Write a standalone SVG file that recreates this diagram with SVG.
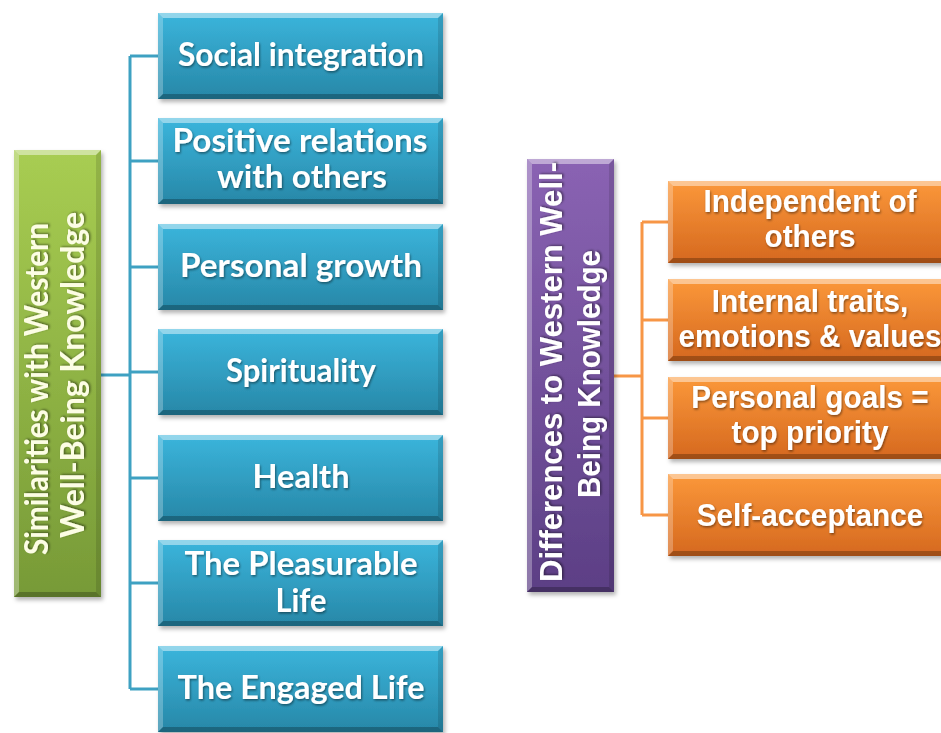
<svg xmlns="http://www.w3.org/2000/svg" xmlns:xlink="http://www.w3.org/1999/xlink" width="941" height="733" viewBox="0 0 941 733">
<style>
.tb{font-family:Lato,"Open Sans","DejaVu Sans",sans-serif;font-weight:bold;font-size:32.5px;fill:#ffffff;text-anchor:middle}
.to{font-family:"Liberation Sans",Arial,sans-serif;font-weight:bold;font-size:32px;fill:#ffffff;text-anchor:middle}
.tg{fill:#fcfde4}
.conB{stroke:#3ea1c2;stroke-width:3;fill:none}
.conO{stroke:#f79646;stroke-width:3;fill:none}
.blue{fill:url(#gBlue)}
.orange{fill:url(#gOrange)}
.hl{fill:#ffffff}
.sh{fill:#000000}
</style>
<defs>
<linearGradient id="gBlue" x1="0" y1="0" x2="0" y2="1"><stop offset="0" stop-color="#3bb5dc"/><stop offset="1" stop-color="#2787a7"/></linearGradient>
<linearGradient id="gOrange" x1="0" y1="0" x2="0" y2="1"><stop offset="0" stop-color="#fb983a"/><stop offset="1" stop-color="#d5681f"/></linearGradient>
<linearGradient id="gGreen" x1="0" y1="0" x2="0" y2="1"><stop offset="0" stop-color="#a8cd52"/><stop offset="1" stop-color="#779a37"/></linearGradient>
<linearGradient id="gPurple" x1="0" y1="0" x2="0" y2="1"><stop offset="0" stop-color="#8a63b3"/><stop offset="1" stop-color="#5c3f85"/></linearGradient>
<filter id="drop" x="-10%" y="-10%" width="120%" height="125%"><feDropShadow dx="2" dy="3" stdDeviation="2" flood-color="#000" flood-opacity="0.3"/></filter>
<filter id="tsh" x="-5%" y="-20%" width="110%" height="140%"><feDropShadow dx="1" dy="1.5" stdDeviation="1" flood-color="#000" flood-opacity="0.45"/></filter>
<g id="bevB">
<polygon class="hl" opacity="0.45" points="0,0 285,0 280,5 5,5"/>
<polygon class="hl" opacity="0.25" points="0,0 5,5 5,81 0,86"/>
<polygon class="sh" opacity="0.12" points="285,0 285,86 280,81 280,5"/>
<polygon class="sh" opacity="0.25" points="0,86 5,81 280,81 285,86"/>
</g>
<g id="bevO">
<polygon class="hl" opacity="0.45" points="0,0 285,0 280,5 5,5"/>
<polygon class="hl" opacity="0.25" points="0,0 5,5 5,77 0,82"/>
<polygon class="sh" opacity="0.12" points="285,0 285,82 280,77 280,5"/>
<polygon class="sh" opacity="0.25" points="0,82 5,77 280,77 285,82"/>
</g>
</defs>
<rect width="941" height="733" fill="#ffffff"/>

<g id="connectors">
<path class="conB" d="M101,375 H130 M130,56 V689 M130,56 H158 M130,161 H158 M130,267 H158 M130,372 H158 M130,478 H158 M130,583 H158 M130,689 H158"/>
<path class="conO" d="M614,376 H642 M642,222 V515 M642,222 H668 M642,320 H668 M642,418 H668 M642,515 H668"/>
</g>

<g id="n-similarities">
<rect x="14" y="150" width="87" height="447" fill="url(#gGreen)" filter="url(#drop)"/>
<polygon class="hl" opacity="0.45" points="14,150 101,150 96,155 19,155"/>
<polygon class="hl" opacity="0.3" points="14,150 19,155 19,592 14,597"/>
<polygon class="sh" opacity="0.12" points="101,150 101,597 96,592 96,155"/>
<polygon class="sh" opacity="0.25" points="14,597 19,592 96,592 101,597"/>
<text class="tb tg" filter="url(#tsh)" transform="translate(48,389) rotate(-90)" x="0" y="0" textLength="332" lengthAdjust="spacingAndGlyphs">Similarities with Western</text>
<text class="tb tg" filter="url(#tsh)" transform="translate(84,375) rotate(-90)" x="0" y="0" textLength="326" lengthAdjust="spacingAndGlyphs">Well-Being Knowledge</text>
</g>

<g id="n-social" filter="url(#drop)">
<rect class="blue" x="158" y="13" width="285" height="86"/>
<use xlink:href="#bevB" x="158" y="13"/>
<text class="tb" filter="url(#tsh)" x="301" y="66" textLength="246" lengthAdjust="spacingAndGlyphs">Social integration</text>
</g>
<g id="n-positive" filter="url(#drop)">
<rect class="blue" x="158" y="118" width="285" height="86"/>
<use xlink:href="#bevB" x="158" y="118"/>
<text class="tb" filter="url(#tsh)" x="300" y="152" textLength="255" lengthAdjust="spacingAndGlyphs">Positive relations</text>
<text class="tb" filter="url(#tsh)" x="302" y="188" textLength="170" lengthAdjust="spacingAndGlyphs">with others</text>
</g>
<g id="n-growth" filter="url(#drop)">
<rect class="blue" x="158" y="224" width="285" height="86"/>
<use xlink:href="#bevB" x="158" y="224"/>
<text class="tb" filter="url(#tsh)" x="301" y="277" textLength="242" lengthAdjust="spacingAndGlyphs">Personal growth</text>
</g>
<g id="n-spirituality" filter="url(#drop)">
<rect class="blue" x="158" y="329" width="285" height="86"/>
<use xlink:href="#bevB" x="158" y="329"/>
<text class="tb" filter="url(#tsh)" x="301" y="382" textLength="150" lengthAdjust="spacingAndGlyphs">Spirituality</text>
</g>
<g id="n-health" filter="url(#drop)">
<rect class="blue" x="158" y="435" width="285" height="86"/>
<use xlink:href="#bevB" x="158" y="435"/>
<text class="tb" filter="url(#tsh)" x="301" y="488" textLength="97" lengthAdjust="spacingAndGlyphs">Health</text>
</g>
<g id="n-pleasurable" filter="url(#drop)">
<rect class="blue" x="158" y="540" width="285" height="86"/>
<use xlink:href="#bevB" x="158" y="540"/>
<text class="tb" filter="url(#tsh)" x="301" y="575" textLength="233" lengthAdjust="spacingAndGlyphs">The Pleasurable</text>
<text class="tb" filter="url(#tsh)" x="301" y="612" textLength="51" lengthAdjust="spacingAndGlyphs">Life</text>
</g>
<g id="n-engaged" filter="url(#drop)">
<rect class="blue" x="158" y="646" width="285" height="86"/>
<use xlink:href="#bevB" x="158" y="646"/>
<text class="tb" filter="url(#tsh)" x="301" y="699" textLength="247" lengthAdjust="spacingAndGlyphs">The Engaged Life</text>
</g>

<g id="n-differences">
<rect x="527" y="159" width="87" height="433" fill="url(#gPurple)" filter="url(#drop)"/>
<polygon class="hl" opacity="0.45" points="527,159 614,159 609,164 532,164"/>
<polygon class="hl" opacity="0.3" points="527,159 532,164 532,587 527,592"/>
<polygon class="sh" opacity="0.12" points="614,159 614,592 609,587 609,164"/>
<polygon class="sh" opacity="0.25" points="527,592 532,587 609,587 614,592"/>
<text class="to" filter="url(#tsh)" transform="translate(562,372) rotate(-90)" x="0" y="0" textLength="420" lengthAdjust="spacingAndGlyphs">Differences to Western Well-</text>
<text class="to" filter="url(#tsh)" transform="translate(600,374) rotate(-90)" x="0" y="0" textLength="248" lengthAdjust="spacingAndGlyphs">Being Knowledge</text>
</g>

<g id="n-independent" filter="url(#drop)">
<rect class="orange" x="668" y="181" width="285" height="82"/>
<use xlink:href="#bevO" x="668" y="181"/>
<g transform="translate(810,0) scale(0.93,1)">
<text class="to" filter="url(#tsh)" x="0" y="212">Independent of</text>
<text class="to" filter="url(#tsh)" x="0" y="247">others</text>
</g>
</g>
<g id="n-internal" filter="url(#drop)">
<rect class="orange" x="668" y="279" width="285" height="82"/>
<use xlink:href="#bevO" x="668" y="279"/>
<g transform="translate(810,0) scale(0.93,1)">
<text class="to" filter="url(#tsh)" x="0" y="312">Internal traits,</text>
<text class="to" filter="url(#tsh)" x="0" y="347">emotions &amp; values</text>
</g>
</g>
<g id="n-goals" filter="url(#drop)">
<rect class="orange" x="668" y="377" width="285" height="82"/>
<use xlink:href="#bevO" x="668" y="377"/>
<g transform="translate(810,0) scale(0.93,1)">
<text class="to" filter="url(#tsh)" x="0" y="408">Personal goals =</text>
<text class="to" filter="url(#tsh)" x="0" y="443">top priority</text>
</g>
</g>
<g id="n-selfaccept" filter="url(#drop)">
<rect class="orange" x="668" y="474" width="285" height="82"/>
<use xlink:href="#bevO" x="668" y="474"/>
<g transform="translate(810,0) scale(0.93,1)">
<text class="to" filter="url(#tsh)" x="0" y="526">Self-acceptance</text>
</g>
</g>
</svg>
